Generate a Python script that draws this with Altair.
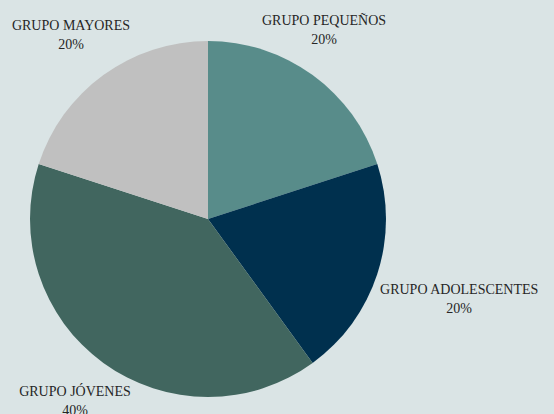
import altair as alt
import pandas as pd
import jinja2

categories = ["GRUPO PEQUEÑOS", "GRUPO ADOLESCENTES", "GRUPO JÓVENES", "GRUPO MAYORES"]
values = [20, 20, 40, 20]
colors = ["#588c8a", "#00304e", "#41665f", "#c0c0c0"]

df = pd.DataFrame({
    "cat": categories,
    "val": values,
    "idx": list(range(len(categories))),
})
df["label"] = [f"{c}\n{v}%" for c, v in zip(categories, values)]

BG = "#dae4e5"
CX, CY, R = 208, 219, 178
TOTAL = sum(values)
LH = 19

theta_scale = alt.Scale(domain=[0, TOTAL])

stacked = alt.Chart(df).transform_stack(
    stack="val", as_=["s0", "s1"], groupby=[],
    sort=[alt.SortField("idx", order="ascending")],
).transform_calculate(mid="(datum.s0 + datum.s1) / 2")

pie = stacked.mark_arc(outerRadius=R, strokeWidth=0).encode(
    theta=alt.Theta("s0:Q", scale=theta_scale),
    theta2="s1:Q",
    x=alt.value(CX), y=alt.value(CY),
    color=alt.Color("cat:N", scale=alt.Scale(domain=categories, range=colors), legend=None),
)


def label_layer(names, radius, dx=0, dy=0):
    return stacked.transform_filter(
        alt.FieldOneOfPredicate(field="cat", oneOf=names)
    ).mark_text(
        radius=radius, dx=dx, dy=dy - LH / 2, lineBreak="\n", lineHeight=LH,
        font="Liberation Serif", fontSize=14, color="#262626",
        align="center", baseline="middle",
    ).encode(
        theta=alt.Theta("mid:Q", scale=theta_scale),
        x=alt.value(CX), y=alt.value(CY), text="label:N",
    )


labels = alt.layer(
    label_layer(["GRUPO MAYORES"], 228, dx=-3, dy=1),
    label_layer(["GRUPO JÓVENES"], 228, dx=1, dy=-2),
    label_layer(["GRUPO PEQUEÑOS"], 228, dx=-18, dy=-4),
    label_layer(["GRUPO ADOLESCENTES"], 262, dx=2),
)

chart = alt.layer(pie, labels).properties(
    width=554, height=414, padding=0,
    autosize=alt.AutoSizeParams(type="none"),
    background=BG,
).configure_view(strokeWidth=0)

TEMPLATE = jinja2.Template("""<!DOCTYPE html>
<html>
<head>
  <style>
    html, body { margin: 0; padding: 0; background: """ + BG + """; overflow: hidden; }
    #{{ output_div }}.vega-embed { width: 100%; display: flex; }
  </style>
  <script type="text/javascript" src="{{ base_url }}/vega@{{ vega_version }}"></script>
  <script type="text/javascript" src="{{ base_url }}/vega-lite@{{ vegalite_version }}"></script>
  <script type="text/javascript" src="{{ base_url }}/vega-embed@{{ vegaembed_version }}"></script>
</head>
<body>
  <div id="{{ output_div }}"></div>
  <script>
    (function(vegaEmbed) {
      var spec = {{ spec }};
      var embedOpt = {{ embed_options }};
      const el = document.getElementById('{{ output_div }}');
      vegaEmbed("#{{ output_div }}", spec, embedOpt).catch(function(error) {
        el.innerHTML = '<div class="error" style="color:red;">' + error + '</div>';
        throw error;
      });
    })(vegaEmbed);
  </script>
</body>
</html>
""")

chart.save("out.html", embed_options={"renderer": "svg", "actions": False}, template=TEMPLATE)
